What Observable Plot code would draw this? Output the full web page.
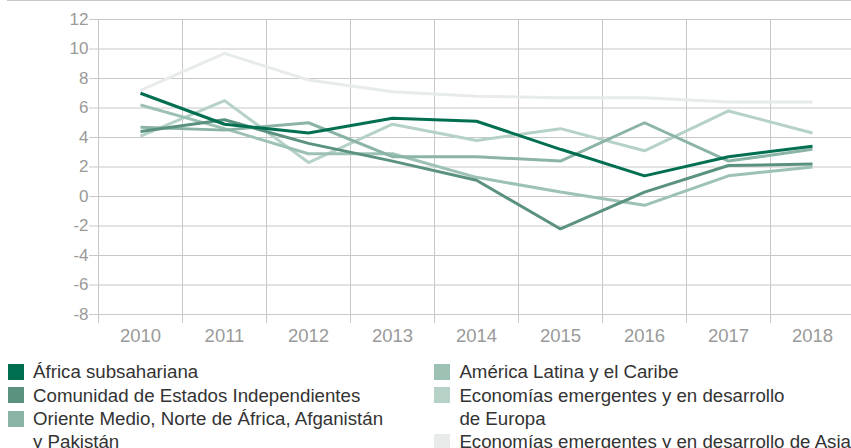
<!DOCTYPE html>
<html>
<head>
<meta charset="utf-8">
<script src="https://cdn.jsdelivr.net/npm/d3@7"></script>
<script src="https://cdn.jsdelivr.net/npm/@observablehq/plot@0.6"></script>
<style>
  html, body { margin: 0; padding: 0; background: #fff; }
  body { width: 851px; height: 448px; overflow: hidden; position: relative; font-family: "Liberation Sans", Arial, sans-serif; }
  .toprule { position: absolute; top: 0; left: 7px; right: 0; border-top: 1px solid #c8c8c8; }
  #chart svg { display: block; }
  .legend { display: flex; margin-top: 12.3px; font-size: 18.7px; line-height: 23.3px; color: #333; }
  .col { display: flex; flex-direction: column; }
  .col1 { margin-left: 8px; width: 427px; }
  .item { display: flex; align-items: flex-start; }
  .sw { width: 16px; height: 16px; flex: none; margin-top: 3.7px; margin-right: 9px; }
  .txt { white-space: nowrap; }
</style>
</head>
<body>
<div class="toprule"></div>
<div id="chart"></div>
<div class="legend" id="legend"></div>
<script>
const years = [2010, 2011, 2012, 2013, 2014, 2015, 2016, 2017, 2018];
const yTicks = [-8, -6, -4, -2, 0, 2, 4, 6, 8, 10, 12];

const seriesNames = [
  "África subsahariana",
  "Comunidad de Estados Independientes",
  "Oriente Medio, Norte de África, Afganistán y Pakistán",
  "América Latina y el Caribe",
  "Economías emergentes y en desarrollo de Europa",
  "Economías emergentes y en desarrollo de Asia"
];
// legend labels with the line breaks of the original
const legendLabels = [
  "África subsahariana",
  "Comunidad de Estados Independientes",
  "Oriente Medio, Norte de África, Afganistán<br>y Pakistán",
  "América Latina y el Caribe",
  "Economías emergentes y en desarrollo<br>de Europa",
  "Economías emergentes y en desarrollo de Asia"
];
const seriesColors = ["#006f51", "#5b927f", "#8bb4a6", "#9dc2b4", "#b6d2c7", "#e7ecea"];

const africaSub = [7.0, 4.9, 4.3, 5.3, 5.1, 3.2, 1.4, 2.7, 3.4];
const cis       = [4.4, 5.2, 3.6, 2.4, 1.1, -2.2, 0.3, 2.1, 2.2];
const menap     = [4.7, 4.5, 5.0, 2.7, 2.7, 2.4, 5.0, 2.4, 3.2];
const latam     = [6.2, 4.6, 2.9, 2.9, 1.3, 0.3, -0.6, 1.4, 2.0];
const europe    = [4.1, 6.5, 2.3, 4.9, 3.8, 4.6, 3.1, 5.8, 4.3];
const asia      = [7.2, 9.7, 7.9, 7.1, 6.8, 6.7, 6.7, 6.4, 6.4];

const seriesValues = [africaSub, cis, menap, latam, europe, asia];

// draw lightest first so the darkest ends on top
const order = seriesNames.map((_, i) => i).reverse();
const data = order.flatMap(s => years.map((year, i) => ({name: seriesNames[s], year, value: seriesValues[s][i]})));
const bandEdges = years.map(y => y - 0.5);

const W = 851, H = 348;
const chart = Plot.plot({
  width: W,
  height: H,
  marginLeft: 98,
  marginRight: 0,
  marginTop: 19,
  marginBottom: 34,
  x: {domain: [years[0] - 0.5, years[years.length - 1] + 0.5], range: [98, 854]},
  y: {domain: [yTicks[0], yTicks[yTicks.length - 1]]},
  color: {domain: seriesNames, range: seriesColors},
  style: {fontFamily: "'Liberation Sans', Arial, sans-serif", background: "transparent", overflow: "visible"},
  marks: [
    Plot.ruleY(yTicks, {stroke: "#c8c8c8", strokeWidth: 1, insetLeft: -9}),
    Plot.ruleX(bandEdges, {stroke: "#c8c8c8", strokeWidth: 1, insetBottom: -9}),
    Plot.axisY({ticks: yTicks, tickSize: 0, tickPadding: 10, tickFormat: d => String(d), label: null, fontSize: 17, fill: "#9a9a9a"}),
    Plot.axisX({ticks: years, tickSize: 0, tickPadding: 14, tickFormat: d => String(d), label: null, fontSize: 18.5, fill: "#9a9a9a"}),
    Plot.line(data, {x: "year", y: "value", z: "name", stroke: "name", strokeWidth: 3, strokeLinejoin: "miter", strokeLinecap: "butt"})
  ]
});
document.getElementById("chart").appendChild(chart);

// legend
const legend = document.getElementById("legend");
const cols = [[0, 1, 2], [3, 4, 5]];
cols.forEach((idx, c) => {
  const col = document.createElement("div");
  col.className = "col " + (c === 0 ? "col1" : "col2");
  idx.forEach(i => {
    const item = document.createElement("div");
    item.className = "item";
    item.innerHTML = `<span class="sw" style="background:${seriesColors[i]}"></span><span class="txt">${legendLabels[i]}</span>`;
    col.appendChild(item);
  });
  legend.appendChild(col);
});
</script>
</body>
</html>
